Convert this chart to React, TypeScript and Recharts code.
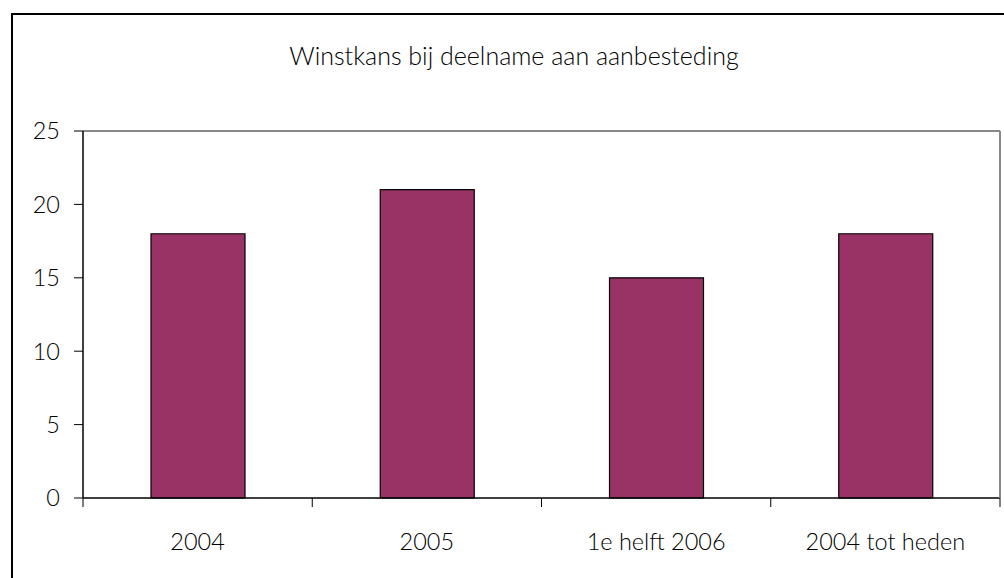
import React from 'react';
import { BarChart, Bar, XAxis, YAxis, ReferenceLine } from 'recharts';

const categories = ['2004', '2005', '1e helft 2006', '2004 tot heden'];
const winstkans = [18, 21, 15, 18];
const yTicks = [0, 5, 10, 15, 20, 25];
const title = 'Winstkans bij deelname aan aanbesteding';

const data = categories.map((c, i) => ({ name: c, value: winstkans[i] }));

const FONT = 'Lato, "Open Sans", sans-serif';

const XTick = (props: any) => {
  const { x, y, payload, index, width, visibleTicksCount } = props;
  const band = width / visibleTicksCount;
  const left = x - band / 2;
  const right = x + band / 2;
  return (
    <g>
      <line x1={left} x2={left} y1={y} y2={y + 9} stroke="#000" strokeWidth={1} />
      {index === visibleTicksCount - 1 && (
        <line x1={right} x2={right} y1={y} y2={y + 9} stroke="#000" strokeWidth={1} />
      )}
      <text x={x} y={y + 52} textAnchor="middle" fontSize={23.5} fontFamily={FONT} fontWeight={300} fill="#000">
        {payload.value}
      </text>
    </g>
  );
};

export default function App() {
  return (
    <div style={{ position: 'fixed', left: 0, top: 0, width: 1004, height: 578, background: '#fff', overflow: 'hidden' }}>
      <div style={{ position: 'absolute', left: 11, top: 13, width: 1100, height: 700, borderTop: '2px solid #000', borderLeft: '2px solid #000' }} />
      <div style={{ position: 'absolute', left: 0, top: 39, width: 1028, textAlign: 'center', fontFamily: FONT, fontWeight: 300, fontSize: 25, color: '#000', lineHeight: '32px' }}>
        {title}
      </div>
      <div style={{ position: 'absolute', left: 0, top: 0 }}>
        <BarChart width={1004} height={578} data={data} margin={{ top: 131, right: 3, left: 23, bottom: 20 }}>
          <XAxis
            dataKey="name"
            height={60}
            axisLine={{ stroke: '#000', strokeWidth: 1.5 }}
            tickLine={false}
            tickSize={0}
            tickMargin={0}
            tick={<XTick />}
            interval={0}
          />
          <YAxis
            yAxisId="left"
            domain={[0, 25]}
            ticks={yTicks}
            width={60}
            axisLine={{ stroke: '#000', strokeWidth: 1.5 }}
            tickLine={{ stroke: '#000' }}
            tickSize={9}
            tickMargin={14}
            tick={{ fontSize: 23.5, fontFamily: FONT, fontWeight: 300, fill: '#000' }}
          />
          <YAxis
            yAxisId="right"
            orientation="right"
            domain={[0, 25]}
            width={1}
            axisLine={{ stroke: '#888', strokeWidth: 2 }}
            tickLine={false}
            tick={false}
          />
          <ReferenceLine yAxisId="left" y={25} stroke="#888" strokeWidth={2} />
          <Bar yAxisId="left" dataKey="value" fill="#993366" stroke="#000" strokeWidth={1.2} barSize={94} isAnimationActive={false} />
        </BarChart>
      </div>
    </div>
  );
}
